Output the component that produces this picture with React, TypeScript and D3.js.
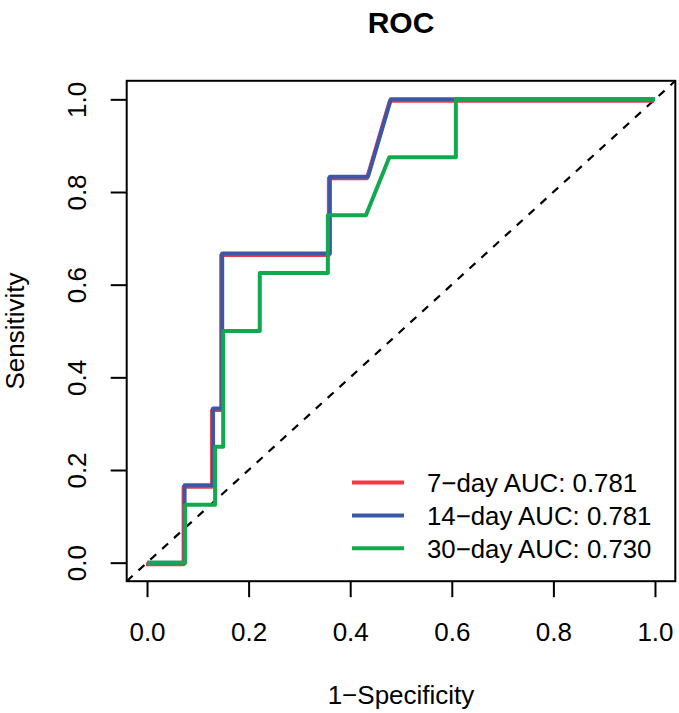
import * as d3 from "d3";
import { useEffect, useRef } from "react";

// ROC points (1-specificity, sensitivity)
const fpr7 = [0, 0.074, 0.074, 0.13, 0.13, 0.148, 0.148, 0.36, 0.36, 0.435, 0.48, 1];
const tpr7 = [0, 0, 0.167, 0.167, 0.333, 0.333, 0.667, 0.667, 0.833, 0.833, 1, 1];
const fpr14 = [0, 0.074, 0.074, 0.13, 0.13, 0.148, 0.148, 0.36, 0.36, 0.435, 0.48, 1];
const tpr14 = [0, 0, 0.167, 0.167, 0.333, 0.333, 0.667, 0.667, 0.833, 0.833, 1, 1];
const fpr30 = [0, 0.075, 0.075, 0.134, 0.134, 0.15, 0.15, 0.222, 0.222, 0.356, 0.356, 0.431, 0.477, 0.608, 0.608, 1];
const tpr30 = [0, 0, 0.125, 0.125, 0.25, 0.25, 0.5, 0.5, 0.625, 0.625, 0.75, 0.75, 0.875, 0.875, 1, 1];

const seriesLabels = ["7\u2212day AUC: 0.781", "14\u2212day AUC: 0.781", "30\u2212day AUC: 0.730"];
const seriesColors = ["#EE3B43", "#3B58A8", "#10A94E"];
const tickValues = [0, 0.2, 0.4, 0.6, 0.8, 1.0];

const FONT = "'Liberation Sans', Arial, sans-serif";

export default function App() {
    const ref = useRef<SVGSVGElement>(null);

    useEffect(() => {
        const svg = d3.select(ref.current);
        svg.selectAll("*").remove();

        const width = 679;
        const height = 713;
        const margin = { top: 80.8, right: 3.7, bottom: 131.8, left: 126.7 };
        const plotW = width - margin.left - margin.right;
        const plotH = height - margin.top - margin.bottom;

        svg.attr("width", width).attr("height", height);
        svg.append("rect").attr("width", width).attr("height", height).attr("fill", "white");

        const g = svg.append("g").attr("transform", `translate(${margin.left},${margin.top})`);

        // R style: 4% padding on each side
        const x = d3.scaleLinear().domain([-0.04, 1.04]).range([0, plotW]);
        const y = d3.scaleLinear().domain([-0.04, 1.04]).range([plotH, 0]);

        // diagonal reference
        g.append("line")
            .attr("x1", x(-0.04))
            .attr("y1", y(-0.04))
            .attr("x2", x(1.04))
            .attr("y2", y(1.04))
            .attr("stroke", "#000")
            .attr("stroke-width", 2.2)
            .attr("stroke-dasharray", "8,8");

        const line = d3
            .line<[number, number]>()
            .x(d => x(d[0]))
            .y(d => y(d[1]));

        const series = [
            { fpr: fpr7, tpr: tpr7, shift: [-1, 1.5] },
            { fpr: fpr14, tpr: tpr14, shift: [0, 0] },
            { fpr: fpr30, tpr: tpr30, shift: [0, 0] },
        ];

        series.forEach((s, i) => {
            const pts = s.fpr.map((f, j) => [f, s.tpr[j]] as [number, number]);
            g.append("path")
                .datum(pts)
                .attr("transform", `translate(${s.shift[0]},${s.shift[1]})`)
                .attr("fill", "none")
                .attr("stroke", seriesColors[i])
                .attr("stroke-width", 4)
                .attr("stroke-linejoin", "round")
                .attr("d", line);
        });

        // box
        g.append("rect")
            .attr("width", plotW)
            .attr("height", plotH)
            .attr("fill", "none")
            .attr("stroke", "#000")
            .attr("stroke-width", 2);

        // axes
        const xAxis = g
            .append("g")
            .attr("transform", `translate(0,${plotH})`)
            .call(d3.axisBottom(x).tickValues(tickValues).tickSize(16).tickSizeOuter(0).tickFormat(d3.format(".1f")));
        xAxis.select(".domain").remove();
        xAxis.selectAll("line").attr("stroke", "#000").attr("stroke-width", 2);
        xAxis
            .selectAll("text")
            .attr("y", 50.8)
            .attr("dy", "0.36em")
            .style("font-family", FONT)
            .style("font-size", "26px")
            .attr("fill", "#000");

        const yAxis = g
            .append("g")
            .call(d3.axisLeft(y).tickValues(tickValues).tickSize(16).tickSizeOuter(0).tickFormat(d3.format(".1f")));
        yAxis.select(".domain").remove();
        yAxis.selectAll("line").attr("stroke", "#000").attr("stroke-width", 2);
        yAxis
            .selectAll("text")
            .attr("x", null)
            .attr("dy", "0.36em")
            .attr("text-anchor", "middle")
            .attr("transform", "translate(-49.7,0) rotate(-90)")
            .style("font-family", FONT)
            .style("font-size", "26px")
            .attr("fill", "#000");

        // titles
        svg.append("text")
            .attr("x", margin.left + plotW / 2)
            .attr("y", 33)
            .attr("text-anchor", "middle")
            .style("font-family", FONT)
            .style("font-size", "30px")
            .style("font-weight", "bold")
            .text("ROC");

        svg.append("text")
            .attr("x", margin.left + plotW / 2)
            .attr("y", 695)
            .attr("dy", "0.36em")
            .attr("text-anchor", "middle")
            .style("font-family", FONT)
            .style("font-size", "26px")
            .text("1\u2212Specificity");

        svg.append("text")
            .attr("transform", `translate(14.5,${margin.top + plotH / 2}) rotate(-90)`)
            .attr("dy", "0.36em")
            .attr("text-anchor", "middle")
            .style("font-family", FONT)
            .style("font-size", "26px")
            .text("Sensitivity");

        // legend
        const legend = svg.append("g").attr("transform", "translate(352,482.5)");
        seriesLabels.forEach((label, i) => {
            const row = legend.append("g").attr("transform", `translate(0,${i * 32.9})`);
            row.append("line")
                .attr("x1", 0)
                .attr("x2", 52)
                .attr("stroke", seriesColors[i])
                .attr("stroke-width", 4);
            row.append("text")
                .attr("x", 75)
                .attr("dy", "0.36em")
                .style("font-family", FONT)
                .style("font-size", "25.8px")
                .text(label);
        });
    }, []);

    return (
        <div style={{ position: "absolute", left: 0, top: 0 }}>
            <svg ref={ref} style={{ display: "block" }} />
        </div>
    );
}
